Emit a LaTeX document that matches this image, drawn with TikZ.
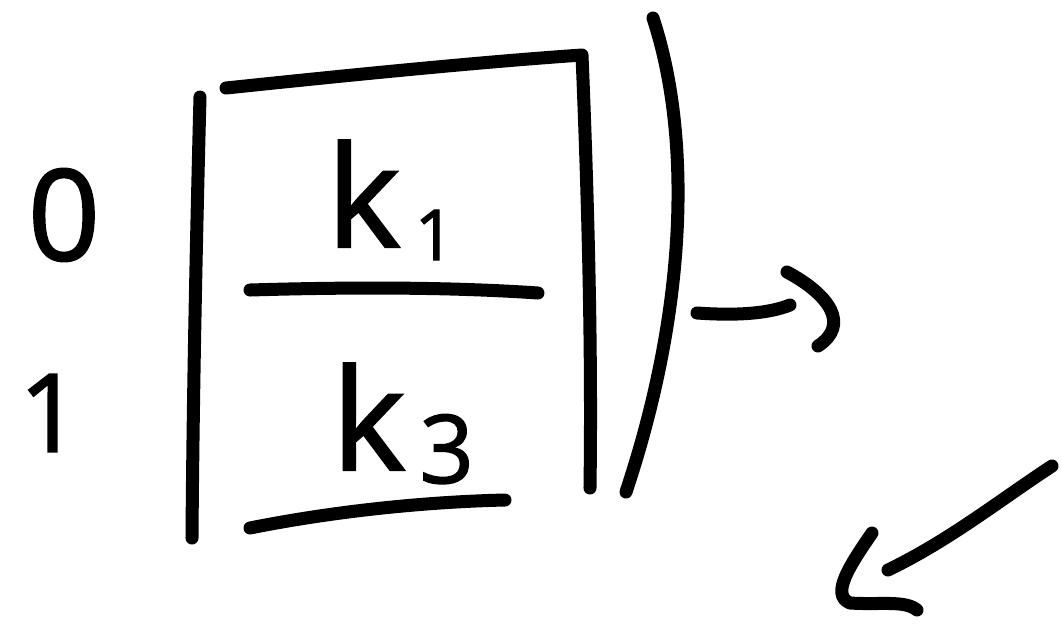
\documentclass[tikz,border=0pt]{standalone}
\usepackage{fontspec}
\setmainfont{Open Sans}[FakeBold=1.5]
\begin{document}
\begin{tikzpicture}[x=0.01cm,y=-0.01cm,
  pen/.style={line width=3.7pt,line cap=round,line join=round,black},
  lbl/.style={inner sep=0pt,font=\fontsize{40}{48}\selectfont}]
\useasboundingbox (0,0) rectangle (1062,635);
% row labels
\node[inner sep=0pt,font=\fontsize{36}{42}\selectfont] (r0) at (64,215) {0};
\node[inner sep=0pt,font=\fontsize{31}{38}\selectfont] (r1) at (50,413) {1};
% matrix entries
\node[lbl,anchor=base west] (k1) at (326,247)
  {k\kern4pt\raisebox{-3.7pt}{\fontsize{20}{24}\selectfont 1}};
\node[lbl,anchor=base west] (k3) at (331,470)
  {k\kern4pt\raisebox{-3.7pt}{\fontsize{27}{32}\selectfont 3}};
% left bar
\draw[pen] (200,97) .. controls (196,250) and (193,400) .. (192,538);
% top bar and right bar
\draw[pen] (226,88) .. controls (350,75) and (480,62) .. (582,55)
  .. controls (588,200) and (592,350) .. (590,488);
% middle line
\draw[pen] (250,290) .. controls (350,287) and (450,287) .. (538,293);
% bottom line
\draw[pen] (250,528) .. controls (330,512) and (420,502) .. (505,500);
% outer bracket
\draw[pen] (653,18) .. controls (690,130) and (690,300) .. (626,492);
% right arrow
\coordinate (a1) at (697,313);
\coordinate (a2) at (790,305);
\draw[pen] (a1) .. controls (740,316) and (770,313) .. (a2);
\draw[pen] (787,272) .. controls (830,295) and (850,325) .. (818,346);
% down-left arrow
\coordinate (b1) at (1052,466);
\coordinate (b2) at (888,570);
\draw[pen] (b1) .. controls (1000,500) and (950,540) .. (b2);
\draw[pen] (872,533) .. controls (850,565) and (830,595) .. (850,603)
  .. controls (880,605) and (905,600) .. (917,610);
\end{tikzpicture}
\end{document}
